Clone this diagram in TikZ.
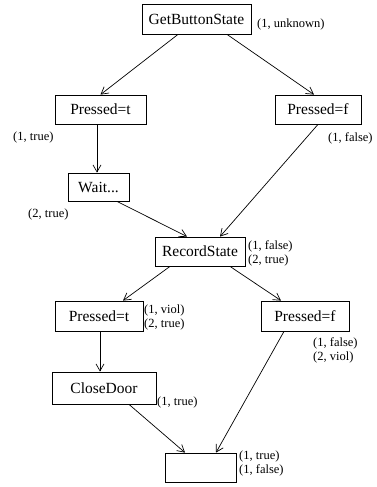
\documentclass[tikz,border=0pt]{standalone}
\usepackage{fontspec}
\setmainfont{Liberation Serif}
\usetikzlibrary{arrows.meta}
\tikzset{
  state/.style={draw, line width=0.8pt, inner sep=0pt, font=\fontsize{15.5}{18}\selectfont},
  info/.style={inner sep=0pt, anchor=west, align=left, font=\fontsize{12.5}{14}\selectfont},
  flow/.style={line width=0.7pt, -{Straight Barb[length=7pt,width=8pt]}}
}
\begin{document}
\begin{tikzpicture}[x=1pt,y=-1pt]
\useasboundingbox (0,0) rectangle (376,487);

% states
\node[state, minimum width=109pt, minimum height=30pt] (gbs) at (196.5,19) {GetButtonState};
\node[state, minimum width=91pt, minimum height=29pt] (pt1) at (100.5,109.5) {Pressed=t};
\node[state, minimum width=86pt, minimum height=29pt] (pf1) at (318,109.5) {Pressed=f};
\node[state, minimum width=61pt, minimum height=28pt] (wait) at (98.5,187) {Wait...};
\node[state, minimum width=90pt, minimum height=29pt] (rec) at (200,251.5) {RecordState};
\node[state, minimum width=88pt, minimum height=30pt] (pt2) at (99,316) {Pressed=t};
\node[state, minimum width=88pt, minimum height=30pt] (pf2) at (305,316) {Pressed=f};
\node[state, minimum width=104pt, minimum height=32pt] (close) at (104,388) {CloseDoor};
\node[state, minimum width=71pt, minimum height=29pt] (done) at (200.5,467.5) {};

% annotations
\node[info] (igbs) at (257,24) {(1, unknown)};
\node[info] (ipt1) at (13,137) {(1, true)};
\node[info] (ipf1) at (328,138) {(1, false)};
\node[info] (iwait) at (28,214) {(2, true)};
\node[info] (irec) at (248,253.5) {(1, false)\\(2, true)};
\node[info] (ipt2) at (144,317.5) {(1, viol)\\(2, true)};
\node[info] (ipf2) at (313,350.5) {(1, false)\\(2, viol)};
\node[info] (iclose) at (157,402) {(1, true)};
\node[info] (idone) at (239,463) {(1, true)\\(1, false)};

\draw[flow] ([xshift=-18.5pt]gbs.south) -- (pt1.north);
\draw[flow] ([xshift=30.5pt]gbs.south) -- ([xshift=-4pt]pf1.north);
\draw[flow] ([xshift=-3.5pt]pt1.south) -- ([xshift=-1.5pt]wait.north);
\draw[flow] (pf1.south) -- ([xshift=20pt]rec.north);
\draw[flow] ([xshift=18.5pt]wait.south) -- ([xshift=-13pt]rec.north);
\draw[flow] ([xshift=-30pt]rec.south) -- ([xshift=24pt]pt2.north);
\draw[flow] ([xshift=30pt]rec.south) -- ([xshift=-24pt]pf2.north);
\draw[flow] ([xshift=1pt]pt2.south) -- ([xshift=-4pt]close.north);
\draw[flow] ([xshift=25pt]close.south) -- ([xshift=-15.5pt]done.north);
\draw[flow] ([xshift=-21pt]pf2.south) -- ([xshift=15.5pt]done.north);
\end{tikzpicture}
\end{document}
